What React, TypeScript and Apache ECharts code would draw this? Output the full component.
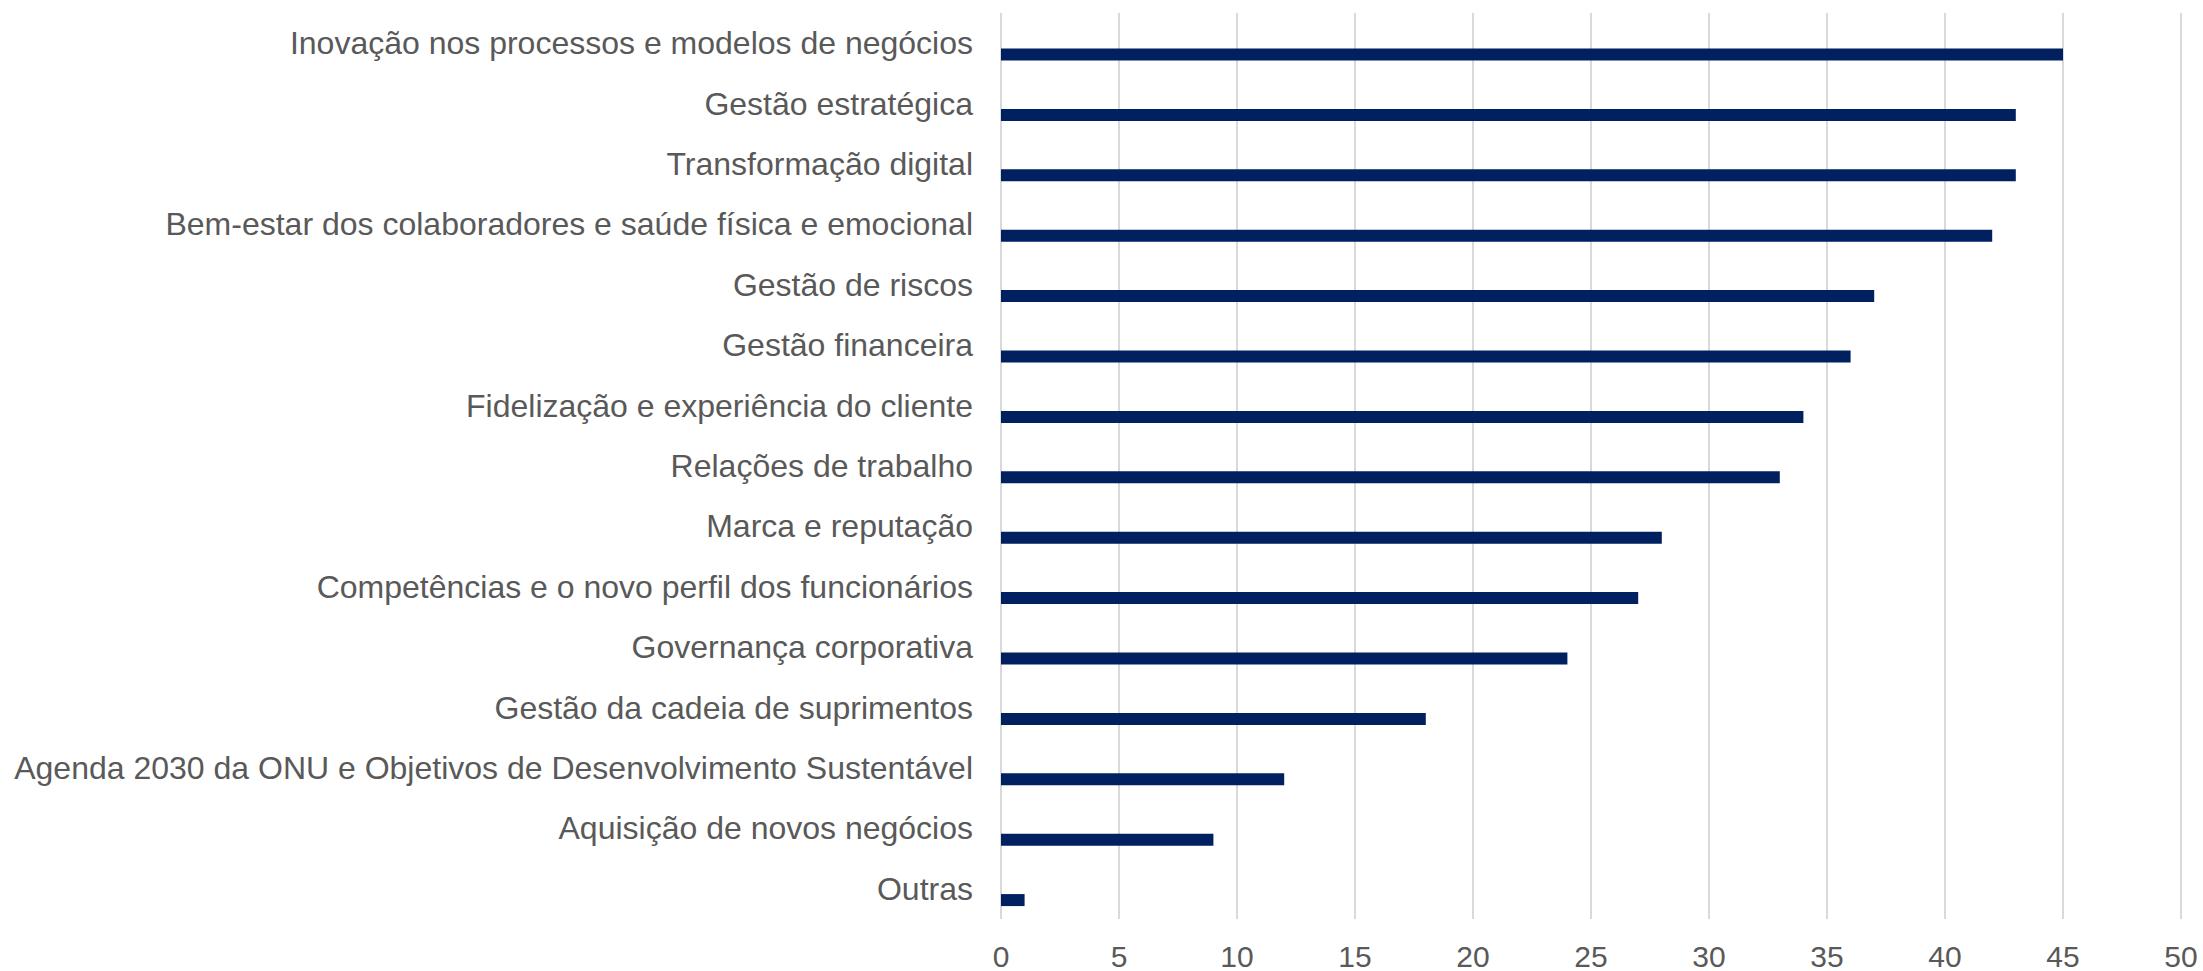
import React, { useEffect, useRef } from "react";
import * as echarts from "echarts";

const categories: string[] = [
  "Inovação nos processos e modelos de negócios",
  "Gestão estratégica",
  "Transformação digital",
  "Bem-estar dos colaboradores e saúde física e emocional",
  "Gestão de riscos",
  "Gestão financeira",
  "Fidelização e experiência do cliente",
  "Relações de trabalho",
  "Marca e reputação",
  "Competências e o novo perfil dos funcionários",
  "Governança corporativa",
  "Gestão da cadeia de suprimentos",
  "Agenda 2030 da ONU e Objetivos de Desenvolvimento Sustentável",
  "Aquisição de novos negócios",
  "Outras",
];

const values: number[] = [45, 43, 43, 42, 37, 36, 34, 33, 28, 27, 24, 18, 12, 9, 1];

const emptySlot: (number | string)[] = categories.map(() => "-");

const xMin = 0;
const xMax = 50;
const xInterval = 5;

export default function App() {
  const ref = useRef<HTMLDivElement>(null);

  useEffect(() => {
    if (!ref.current) return;
    const chart = echarts.init(ref.current, undefined, { renderer: "svg" });
    const font = "'Liberation Sans', Arial, sans-serif";
    chart.setOption({
      animation: false,
      backgroundColor: "#ffffff",
      grid: { left: 1001, right: 22, top: 13, bottom: 50, containLabel: false },
      xAxis: {
        type: "value",
        min: xMin,
        max: xMax,
        interval: xInterval,
        axisLine: { show: false },
        axisTick: { show: false },
        splitLine: { show: true, lineStyle: { color: "#d9d9d9", width: 2 } },
        axisLabel: {
          color: "#595959",
          fontSize: 30,
          fontFamily: font,
          margin: 22,
        },
      },
      yAxis: {
        type: "category",
        data: categories,
        inverse: true,
        axisLine: { show: false },
        axisTick: { show: false },
        splitLine: { show: false },
        axisLabel: {
          color: "#595959",
          fontSize: 32,
          fontFamily: font,
          margin: 28,
        },
      },
      series: [
        {
          type: "bar",
          name: "slot",
          data: emptySlot,
          barWidth: 12,
          barGap: "88%",
          silent: true,
        },
        {
          type: "bar",
          name: "Valor",
          data: values,
          barWidth: 12,
          barGap: "88%",
          itemStyle: { color: "#002060" },
        },
      ],
    });
    return () => chart.dispose();
  }, []);

  return (
    <div
      ref={ref}
      style={{ position: "absolute", left: 0, top: 0, width: 2203, height: 971 }}
    />
  );
}
